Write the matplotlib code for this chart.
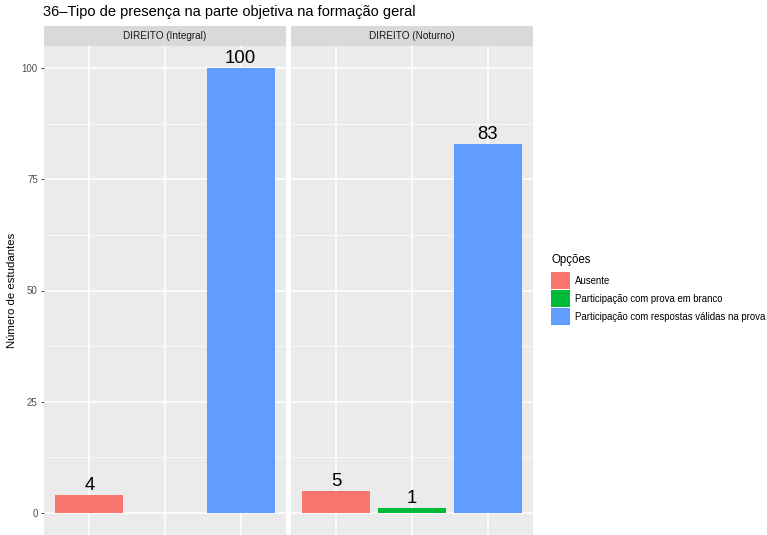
import matplotlib.pyplot as plt
from matplotlib.patches import Rectangle

plt.rcParams['font.family'] = ['Liberation Sans', 'DejaVu Sans']

# data
options = ['Ausente', 'Participação com prova em branco',
           'Participação com respostas válidas na prova']
colors = ['#F8766D', '#00BA38', '#619CFF']
panels = ['DIREITO (Integral)', 'DIREITO (Noturno)']
integral = [4, None, 100]
noturno = [5, 1, 83]
counts = [integral, noturno]

W, H = 767, 535
fig = plt.figure(figsize=(W / 100, H / 100), dpi=100)


def px_axes(x0, y0, x1, y1):
    # pixel box (top-left origin) -> figure axes
    return fig.add_axes([x0 / W, 1 - y1 / H, (x1 - x0) / W, (y1 - y0) / H])


panel_x = [(44, 286), (291, 533)]
for i, (name, vals) in enumerate(zip(panels, counts)):
    x0, x1 = panel_x[i]
    ax = px_axes(x0, 46, x1, 535)
    ax.set_facecolor('#EBEBEB')
    ax.set_xlim(0.4, 3.6)
    ax.set_ylim(-5, 105)
    for y in [12.5, 37.5, 62.5, 87.5]:
        ax.axhline(y, color='white', lw=0.5, zorder=0)
    for y in [0, 25, 50, 75, 100]:
        ax.axhline(y, color='white', lw=1.1, zorder=0)
    for x in [1, 2, 3]:
        ax.axvline(x, color='white', lw=1.1, zorder=0)
    for j, v in enumerate(vals):
        if v is None:
            continue
        ax.bar(j + 1, v, width=0.9, color=colors[j], zorder=2)
        ax.text(j + 1, v + 0.2, str(v), ha='center', va='bottom',
                fontsize=13.4, color='black', zorder=3)
    for s in ax.spines.values():
        s.set_visible(False)
    ax.set_xticks([])
    ax.set_yticks([0, 25, 50, 75, 100])
    if i == 0:
        ax.tick_params(axis='y', length=2.5, width=0.6, color='#333333',
                       labelsize=7, labelcolor='#4D4D4D', pad=2)
    else:
        ax.tick_params(axis='y', left=False, labelleft=False)

    sax = px_axes(x0, 26, x1, 46)
    sax.set_facecolor('#D9D9D9')
    sax.set_xticks([])
    sax.set_yticks([])
    for s in sax.spines.values():
        s.set_visible(False)
    sax.text(0.5, 0.5, name, ha='center', va='center', fontsize=7.2,
             color='#1A1A1A', transform=sax.transAxes)

fig.text(43 / W, 1 - 12 / H, '36–Tipo de presença na parte objetiva na formação geral',
         fontsize=10.5, ha='left', va='center')
fig.text(12 / W, 1 - 290 / H, 'Número de estudantes', rotation=90,
         fontsize=8.2, ha='center', va='center')

# legend drawn by hand to match ggplot key sizes
fig.text(551 / W, 1 - 260 / H, 'Opções', fontsize=8.3, ha='left', va='center')
for k, (lab, c) in enumerate(zip(options, colors)):
    top = 272 + 18 * k
    fig.patches.append(Rectangle((551 / W, 1 - (top + 17) / H), 19 / W, 17 / H,
                                 facecolor=c, edgecolor='none',
                                 transform=fig.transFigure, figure=fig))
    fig.text(575 / W, 1 - (top + 8.5) / H, lab, fontsize=6.9,
             ha='left', va='center')

fig.savefig('out.png', dpi=100)
